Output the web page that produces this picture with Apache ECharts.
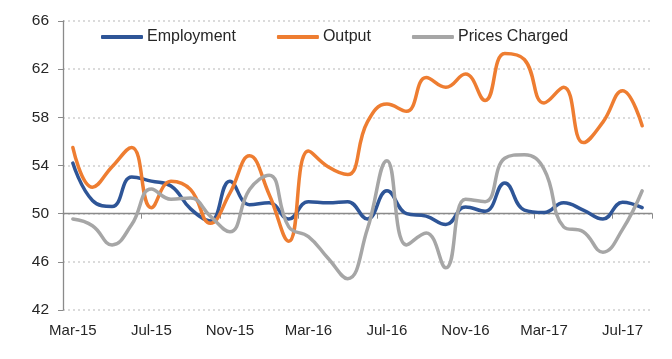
<!DOCTYPE html>
<html>
<head>
<meta charset="utf-8">
<script src="https://cdn.jsdelivr.net/npm/echarts@6/dist/echarts.min.js"></script>
<style>html,body{margin:0;padding:0;background:#fff}#c{width:672px;height:359px}</style>
</head>
<body>
<div id="c"></div>
<script>
var categories = ["Mar-15","Apr-15","May-15","Jun-15","Jul-15","Aug-15","Sep-15","Oct-15","Nov-15","Dec-15",
  "Jan-16","Feb-16","Mar-16","Apr-16","May-16","Jun-16","Jul-16","Aug-16","Sep-16","Oct-16",
  "Nov-16","Dec-16","Jan-17","Feb-17","Mar-17","Apr-17","May-17","Jun-17","Jul-17","Aug-17"];
var employment = [54.2, 51.1, 50.6, 53.05, 52.7, 52.3, 50.4, 49.4, 52.7, 50.75,
  50.9, 49.55, 51.0, 50.9, 51.0, 49.55, 51.9, 50.0, 49.8, 49.1,
  50.55, 50.2, 52.55, 50.3, 50.1, 50.9, 50.3, 49.55, 50.95, 50.5];
var output = [55.5, 52.2, 53.9, 55.5, 50.5, 52.7, 52.0, 49.2, 51.7, 54.8,
  51.6, 47.7, 55.2, 53.9, 53.25, 57.6, 59.1, 58.5, 61.3, 60.5,
  61.6, 59.4, 63.3, 62.8, 59.2, 60.5, 55.9, 57.6, 60.2, 57.3];
var prices = [49.55, 49.0, 47.4, 49.1, 52.05, 51.2, 51.3, 49.8, 48.5, 52.0,
  53.2, 48.9, 48.1, 46.3, 44.6, 48.7, 54.4, 47.4, 48.4, 45.5,
  51.2, 51.0, 54.6, 54.9, 53.7, 48.9, 48.5, 46.8, 48.7, 51.9];
var yTicks = [42, 46, 50, 54, 58, 62, 66];

var gridTop = 21, gridBottom = 49, H = 359;
var yMin = yTicks[0], yMax = yTicks[yTicks.length - 1], crossAt = 50;
var plotH = H - gridTop - gridBottom;
var crossOffset = -plotH * (crossAt - yMin) / (yMax - yMin);

var font = "'Liberation Sans', Arial, sans-serif";
var txt = '#262626';
var chart = echarts.init(document.getElementById('c'));
function mk(name, data, color) {
  return { name: name, type: 'line', data: data, smooth: 0.45, symbol: 'none',
    lineStyle: { color: color, width: 3.5, cap: 'round', join: 'round' },
    itemStyle: { color: color }, z: 3 };
}
chart.setOption({
  animation: false,
  backgroundColor: '#fff',
  textStyle: { fontFamily: font },
  legend: {
    left: 96, top: 24, itemWidth: 42, itemHeight: 4, itemGap: 41, icon: 'roundRect',
    textStyle: { fontSize: 16, color: txt, fontFamily: font, padding: [0, 0, 0, -1] },
    data: ['Employment', 'Output', 'Prices Charged']
  },
  grid: { left: 63, right: 20, top: gridTop, bottom: gridBottom },
  xAxis: [{
    type: 'category', data: categories, boundaryGap: true, position: 'bottom',
    axisLine: { show: false }, axisTick: { show: false },
    axisLabel: { interval: 3, fontSize: 15, color: txt, fontFamily: font, margin: 13 },
    splitLine: { show: false }
  }, {
    type: 'category', data: categories, boundaryGap: true, position: 'bottom', offset: crossOffset,
    axisLine: { show: true, lineStyle: { color: '#8a8a8a', width: 1.3 } },
    axisTick: { show: true, interval: 3, length: 5, lineStyle: { color: '#8a8a8a', width: 1 } },
    axisLabel: { show: false }, splitLine: { show: false }
  }],
  yAxis: {
    type: 'value', min: yMin, max: yMax, interval: 4,
    axisLine: { show: true, lineStyle: { color: '#8a8a8a', width: 1.3 } },
    axisTick: { show: true, length: 5, lineStyle: { color: '#8a8a8a' } },
    axisLabel: { fontSize: 15.5, color: txt, fontFamily: font, margin: 14 },
    splitLine: { show: true, lineStyle: { color: '#cfcfcf', width: 1.5, type: [2, 3] } }
  },
  series: [
    mk('Employment', employment, '#2E5597'),
    mk('Output', output, '#EE7D31'),
    mk('Prices Charged', prices, '#A6A6A6')
  ]
});
</script>
</body>
</html>
